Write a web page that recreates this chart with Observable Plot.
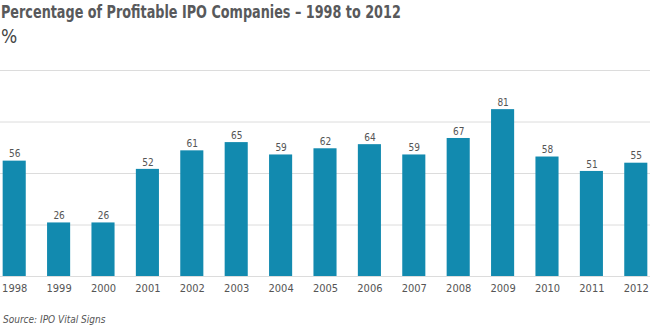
<!DOCTYPE html>
<html>
<head>
<meta charset="utf-8">
<script src="https://cdn.jsdelivr.net/npm/d3@7"></script>
<script src="https://cdn.jsdelivr.net/npm/@observablehq/plot@0.6"></script>
<style>
  body { margin: 0; background: #fff; width: 650px; height: 328px; overflow: hidden; }
  #wrap { position: relative; width: 650px; height: 328px; font-family: "Liberation Sans Narrow", "DejaVu Sans Condensed", sans-serif; }
  #title { position: absolute; left: 1px; top: 0px; font-size: 18px; font-weight: bold; color: #58595b; line-height: 24px; white-space: nowrap; transform: scaleX(0.79); transform-origin: 0 0; }
  #unit { position: absolute; left: 1px; top: 25px; font-size: 19px; color: #444; line-height: 22px; }
  #chart { position: absolute; left: 0; top: 50px; }
  #source { position: absolute; left: 3px; top: 313px; font-size: 10px; font-style: italic; color: #555; line-height: 14px; }
</style>
</head>
<body>
<div id="wrap">
  <div id="title">Percentage of Profitable IPO Companies – 1998 to 2012</div>
  <div id="unit">%</div>
  <div id="chart"></div>
  <div id="source">Source: IPO Vital Signs</div>
</div>
<script>
const years = ["1998","1999","2000","2001","2002","2003","2004","2005","2006","2007","2008","2009","2010","2011","2012"];
const values = [56, 26, 26, 52, 61, 65, 59, 62, 64, 59, 67, 81, 58, 51, 55];
const gridTicks = [0, 25, 50, 75, 100];

const data = years.map((y, i) => ({year: y, value: values[i]}));

const chart = Plot.plot({
  width: 650,
  height: 250,
  marginTop: 20,
  marginBottom: 24,
  marginLeft: 0,
  marginRight: 0,
  style: {fontFamily: '"Liberation Sans Narrow", "DejaVu Sans Condensed", sans-serif', background: "#fff"},
  x: {domain: years, paddingInner: 0.48, paddingOuter: 0.06, round: false, label: null},
  y: {domain: [0, 100], axis: null},
  marks: [
    Plot.ruleY(gridTicks, {stroke: "#dcdcdc", strokeWidth: 1}),
    Plot.barY(data, {x: "year", y: "value", fill: "#128aaf"}),
    Plot.text(data, {x: "year", y: "value", text: d => String(d.value), dy: -7, fontSize: 10, fill: "#555"}),
    Plot.axisX({tickSize: 0, tickPadding: 8, fontSize: 11, color: "#555", label: null})
  ]
});
document.getElementById("chart").appendChild(chart);
</script>
</body>
</html>
